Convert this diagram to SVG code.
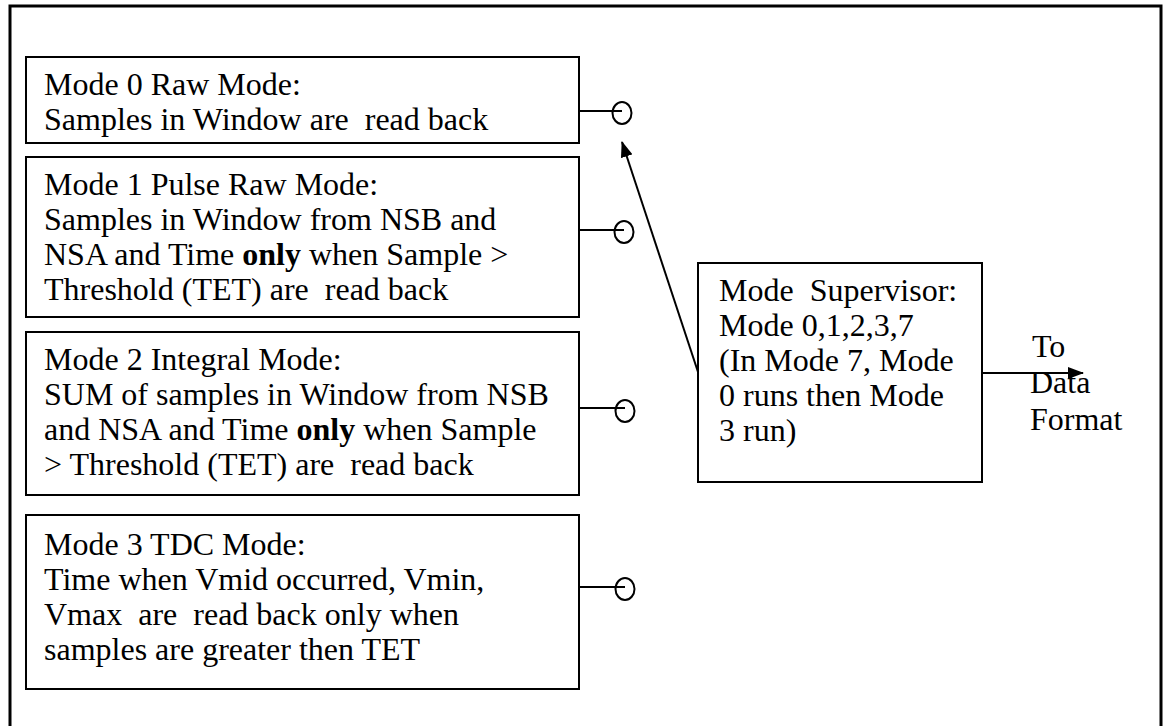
<svg xmlns="http://www.w3.org/2000/svg" width="1164" height="726" viewBox="0 0 1164 726">
<style>
  .frame { fill: none; stroke: #000; stroke-width: 3; }
  .box { fill: #fff; stroke: #000; stroke-width: 2; }
  .t { font-family: "Liberation Serif", "Times New Roman", serif; font-size: 32px; fill: #000; white-space: pre; }
  .b { font-weight: bold; }
  .line { stroke: #000; stroke-width: 2; fill: none; }
  .port { fill: none; stroke: #000; stroke-width: 2; }
</style>
<defs>
  <marker id="arrow" viewBox="0 0 16 12" refX="15" refY="6" markerWidth="16" markerHeight="12" markerUnits="userSpaceOnUse" orient="auto">
    <path d="M0,0 L16,6 L0,12 Z" fill="#000"/>
  </marker>
</defs>
<rect width="1164" height="726" fill="#fff"/>
<rect class="frame" x="10" y="6" width="1151" height="740"/>

<g id="connectors">
  <line class="line" x1="576" y1="111" x2="622" y2="111"/>
  <ellipse class="port" cx="622" cy="113" rx="9.5" ry="11"/>
  <line class="line" x1="576" y1="230" x2="624" y2="230"/>
  <ellipse class="port" cx="624" cy="232" rx="9.5" ry="11"/>
  <line class="line" x1="576" y1="408" x2="625" y2="408"/>
  <ellipse class="port" cx="625" cy="411" rx="9.5" ry="11"/>
  <line class="line" x1="576" y1="587" x2="625" y2="587"/>
  <ellipse class="port" cx="625" cy="589" rx="9.5" ry="11"/>
  <line class="line" x1="698" y1="372" x2="622" y2="142" marker-end="url(#arrow)"/>
  <line class="line" x1="982" y1="373" x2="1083" y2="373" marker-end="url(#arrow)"/>
</g>

<g id="mode0">
  <rect class="box" x="26" y="57" width="553" height="86"/>
  <text class="t" x="44" y="95">Mode 0 Raw Mode:</text>
  <text class="t" x="44" y="130">Samples in Window are  read back</text>
</g>

<g id="mode1">
  <rect class="box" x="26" y="157" width="553" height="160"/>
  <text class="t" x="44" y="195">Mode 1 Pulse Raw Mode:</text>
  <text class="t" x="44" y="230">Samples in Window from NSB and</text>
  <text class="t" x="44" y="265">NSA and Time <tspan class="b">only</tspan> when Sample &gt;</text>
  <text class="t" x="44" y="300">Threshold (TET) are  read back</text>
</g>

<g id="mode2">
  <rect class="box" x="26" y="332" width="553" height="163"/>
  <text class="t" x="44" y="370">Mode 2 Integral Mode:</text>
  <text class="t" x="44" y="405">SUM of samples in Window from NSB</text>
  <text class="t" x="44" y="440">and NSA and Time <tspan class="b">only</tspan> when Sample</text>
  <text class="t" x="44" y="475">&gt; Threshold (TET) are  read back</text>
</g>

<g id="mode3">
  <rect class="box" x="26" y="515" width="553" height="174"/>
  <text class="t" x="44" y="555">Mode 3 TDC Mode:</text>
  <text class="t" x="44" y="590">Time when Vmid occurred, Vmin,</text>
  <text class="t" x="44" y="625">Vmax  are  read back only when</text>
  <text class="t" x="44" y="660">samples are greater then TET</text>
</g>

<g id="supervisor">
  <rect class="box" x="698" y="263" width="284" height="219"/>
  <text class="t" x="719" y="301">Mode  Supervisor:</text>
  <text class="t" x="719" y="336">Mode 0,1,2,3,7</text>
  <text class="t" x="719" y="371">(In Mode 7, Mode</text>
  <text class="t" x="719" y="406">0 runs then Mode</text>
  <text class="t" x="719" y="441">3 run)</text>
</g>

<g id="dataformat">
  <text class="t" x="1032" y="357">To</text>
  <text class="t" x="1030" y="393">Data</text>
  <text class="t" x="1030" y="430">Format</text>
</g>
</svg>
